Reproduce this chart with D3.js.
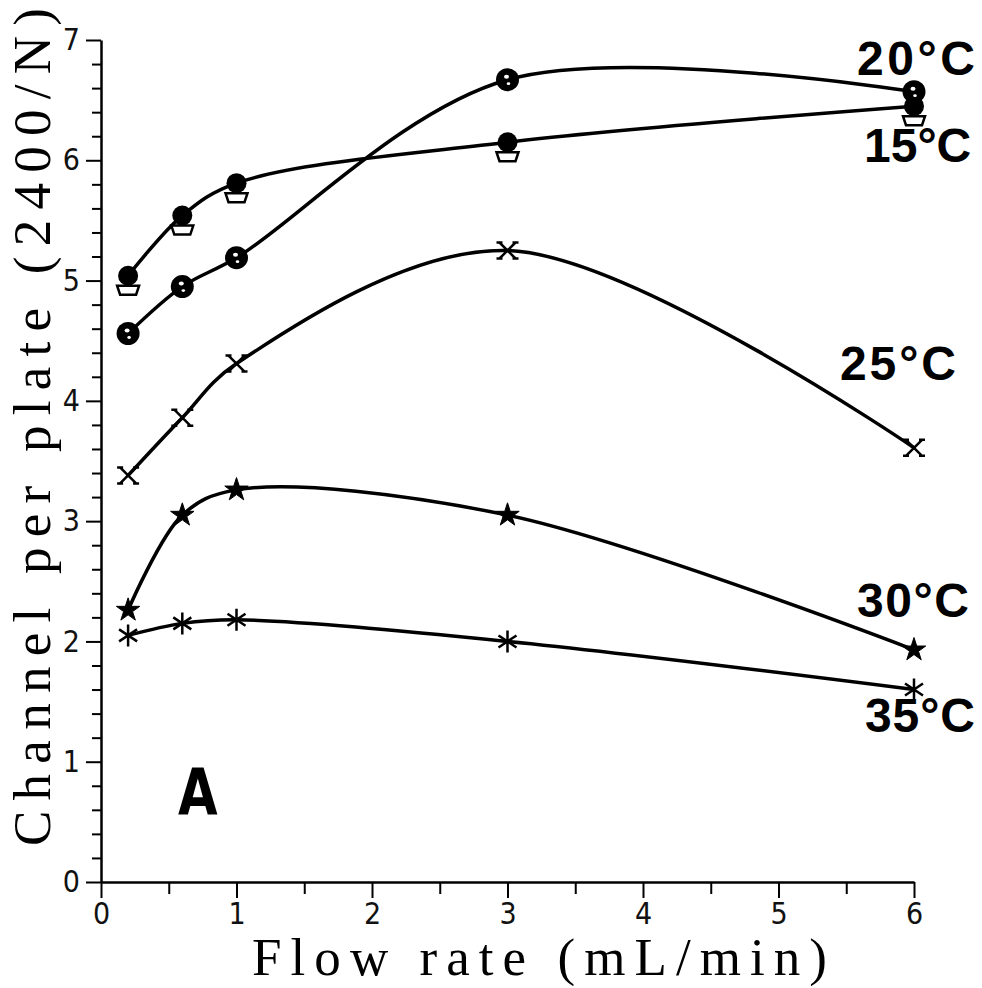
<!DOCTYPE html>
<html>
<head>
<meta charset="utf-8">
<script src="https://cdn.jsdelivr.net/npm/d3@7/dist/d3.min.js"></script>
<style>
  html, body { margin: 0; padding: 0; background: #fff; }
  svg { display: block; }
</style>
</head>
<body>
<svg id="chart" width="982" height="988"></svg>
<script>
// ---- data ----
const flowRates = [0.2, 0.6, 1.0, 3.0, 6.0];
const series15 = [5.04, 5.54, 5.81, 6.15, 6.45];
const series20 = [4.56, 4.95, 5.19, 6.67, 6.57];
const series25 = [3.38, 3.86, 4.31, 5.25, 3.61];
const series30 = [2.26, 3.05, 3.26, 3.05, 1.93];
const series35 = [2.05, 2.15, 2.18, 2.00, 1.60];
const seriesNames = ["15°C", "20°C", "25°C", "30°C", "35°C"];
const xMajorTicks = [0, 1, 2, 3, 4, 5, 6];
const xMinorTicks = [0.5, 1.5, 2.5, 3.5, 4.5, 5.5];
const yMajorTicks = [0, 1, 2, 3, 4, 5, 6, 7];
const xTitle = "Flow rate (mL/min)";
const yTitle = "Channel per plate (2400/N)";
const panelLabel = "A";

const svg = d3.select("#chart");
svg.append("rect").attr("width", 982).attr("height", 988).attr("fill", "#fff");

const x = d3.scaleLinear().domain([0, 6]).range([101, 914]);
const y = d3.scaleLinear().domain([0, 7]).range([882, 40]);

const tickFont = "'Liberation Sans Narrow','DejaVu Sans Condensed','Liberation Sans',sans-serif";

// ---- axes ----
const gx = svg.append("g").attr("transform", `translate(0,${y(0)})`);
gx.call(d3.axisBottom(x).tickValues(xMajorTicks).tickSize(16).tickSizeOuter(0).tickPadding(5).tickFormat(d3.format("d")));
const gxm = svg.append("g").attr("transform", `translate(0,${y(0)})`);
gxm.call(d3.axisBottom(x).tickValues(xMinorTicks).tickSize(12).tickSizeOuter(0).tickFormat(""));
gxm.select(".domain").remove();

const yMinor = d3.range(0, 7.001, 0.2).filter(v => Math.abs(v - Math.round(v)) > 1e-6);
const gy = svg.append("g").attr("transform", `translate(${x(0)},0)`);
gy.call(d3.axisLeft(y).tickValues(yMajorTicks).tickSize(15).tickSizeOuter(0).tickPadding(6).tickFormat(d3.format("d")));
const gym = svg.append("g").attr("transform", `translate(${x(0)},0)`);
gym.call(d3.axisLeft(y).tickValues(yMinor).tickSize(9).tickSizeOuter(0).tickFormat(""));
gym.select(".domain").remove();

svg.selectAll(".domain").attr("stroke", "#000").attr("stroke-width", 2.5);
svg.selectAll(".tick line").attr("stroke", "#000").attr("stroke-width", 2);
svg.selectAll(".tick text")
  .attr("font-family", tickFont)
  .attr("font-size", 30)
  .attr("fill", "#111");

// ---- titles ----
svg.append("text")
  .attr("x", 252).attr("y", 975)
  .attr("font-family", "'Liberation Serif','DejaVu Serif',serif")
  .attr("font-size", 53)
  .attr("textLength", 575).attr("lengthAdjust", "spacing")
  .attr("fill", "#000")
  .text(xTitle);

svg.append("text")
  .attr("transform", "translate(50,846) rotate(-90)")
  .attr("font-family", "'Liberation Serif','DejaVu Serif',serif")
  .attr("font-size", 53)
  .attr("textLength", 838).attr("lengthAdjust", "spacing")
  .attr("fill", "#000")
  .text(yTitle);

svg.append("text")
  .attr("transform", "translate(178,815) scale(0.8,1)")
  .attr("font-family", "'DejaVu Sans',sans-serif")
  .attr("font-weight", "bold")
  .attr("font-size", 64)
  .attr("fill", "#000")
  .text(panelLabel);

// ---- curves ----
const allSeries = [series15, series20, series25, series30, series35];
const line = d3.line().x(d => x(d[0])).y(d => y(d[1])).curve(d3.curveCatmullRom.alpha(0.5));
const plot = svg.append("g");
allSeries.forEach(s => {
  const pts = flowRates.map((f, i) => [f, s[i]]);
  plot.append("path").attr("d", line(pts))
    .attr("fill", "none").attr("stroke", "#000").attr("stroke-width", 3.5)
    .attr("stroke-linejoin", "round").attr("stroke-linecap", "round");
});

// ---- markers ----
function pts(s) { return flowRates.map((f, i) => [x(f), y(s[i])]); }

// 15 °C: filled circle with open cup below
pts(series15).forEach(([px, py]) => {
  const g = plot.append("g").attr("transform", `translate(${px},${py})`);
  g.append("path").attr("d", "M-11,10 L11,10 L8,19 L-8,19 Z")
    .attr("fill", "#fff").attr("stroke", "#000").attr("stroke-width", 2.5);
  g.append("circle").attr("r", 10).attr("fill", "#000");
});

// 20 °C: heavy open circle with cross (inked)
pts(series20).forEach(([px, py]) => {
  const g = plot.append("g").attr("transform", `translate(${px},${py})`);
  g.append("circle").attr("r", 11.5).attr("fill", "#000");
  g.append("ellipse").attr("cx", -1).attr("cy", -3).attr("rx", 2.5).attr("ry", 2).attr("fill", "#fff");
  g.append("ellipse").attr("cx", 1).attr("cy", 4).attr("rx", 1.8).attr("ry", 1.4).attr("fill", "#fff");
});

// 25 °C: X with end bars
pts(series25).forEach(([px, py]) => {
  const g = plot.append("g").attr("transform", `translate(${px},${py})`);
  g.append("path")
    .attr("d", "M-8,-8 L8,8 M8,-8 L-8,8 M-11,-8 L-5,-8 M5,-8 L11,-8 M-11,8 L-5,8 M5,8 L11,8")
    .attr("fill", "none").attr("stroke", "#000").attr("stroke-width", 2.5);
});

// 30 °C: star
pts(series30).forEach(([px, py]) => {
  plot.append("path").attr("transform", `translate(${px},${py})`)
    .attr("d", d3.symbol().type(d3.symbolStar).size(170)())
    .attr("fill", "#000").attr("stroke", "#000").attr("stroke-width", 1);
});

// 35 °C: asterisk
pts(series35).forEach(([px, py]) => {
  plot.append("path").attr("transform", `translate(${px},${py})`)
    .attr("d", "M0,-11 L0,11 M-9,-6 L9,6 M9,-6 L-9,6")
    .attr("fill", "none").attr("stroke", "#000").attr("stroke-width", 2.5);
});

// ---- series labels ----
const labelPos = [
  { name: seriesNames[0], x: 864, y: 162, w: null },
  { name: seriesNames[1], x: 857, y: 75, w: 118 },
  { name: seriesNames[2], x: 840, y: 380, w: 116 },
  { name: seriesNames[3], x: 857, y: 617, w: 112 },
  { name: seriesNames[4], x: 865, y: 732, w: 110 }
];
labelPos.forEach(l => {
  const t = svg.append("text").attr("x", l.x).attr("y", l.y)
    .attr("font-family", "'Liberation Sans','Arial',sans-serif")
    .attr("font-weight", "bold")
    .attr("font-size", 48)
    .attr("fill", "#000")
    .text(l.name);
  if (l.w) t.attr("textLength", l.w).attr("lengthAdjust", "spacing");
});
</script>
</body>
</html>
